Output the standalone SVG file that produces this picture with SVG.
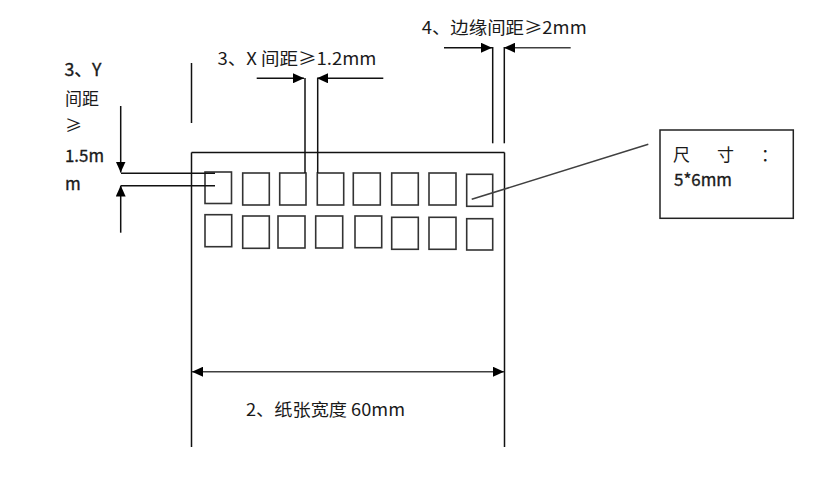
<svg xmlns="http://www.w3.org/2000/svg" width="818" height="479" viewBox="0 0 818 479">
<defs>
<marker id="arr" markerUnits="userSpaceOnUse" markerWidth="11" markerHeight="10" refX="10" refY="4.5" orient="auto-start-reverse" viewBox="0 0 10 9">
<path d="M0,0 L10,4.5 L0,9 z" fill="#000"/>
</marker>
<style>
.ln{stroke:#111;stroke-width:1.5;fill:none}
.gl{stroke:#404040;stroke-width:1.5;fill:none}
.bx{stroke:#333;stroke-width:1.6;fill:#fff}
.t{font-family:"Noto Sans CJK SC","Liberation Sans",sans-serif;font-size:17px;fill:#1a1a1a}
.b{stroke:#1a1a1a;stroke-width:0.35}
</style>
</defs>
<rect width="818" height="479" fill="#fff"/>

<g id="paper">
<path class="ln" d="M191.5,152.5 H504.5 M191.5,152.5 V447 M504.5,152.5 V447"/>
<line class="ln" x1="191.5" y1="63" x2="191.5" y2="123"/>
</g>

<g id="labels-grid">
<rect class="bx" x="205" y="172" width="26.5" height="31.5"/>
<rect class="bx" x="242.7" y="173" width="26.6" height="32"/>
<rect class="bx" x="279.7" y="173" width="26.3" height="32"/>
<rect class="bx" x="317.3" y="173" width="26.4" height="32"/>
<rect class="bx" x="353.3" y="173" width="27" height="32"/>
<rect class="bx" x="391.7" y="173" width="26.6" height="32"/>
<rect class="bx" x="429" y="173" width="27" height="32"/>
<rect class="bx" x="466.7" y="174.3" width="26" height="32"/>
<rect class="bx" x="205" y="214.7" width="26.7" height="32"/>
<rect class="bx" x="242.7" y="216" width="26.6" height="32.3"/>
<rect class="bx" x="278" y="216" width="27" height="32"/>
<rect class="bx" x="315.7" y="216" width="27" height="32"/>
<rect class="bx" x="355" y="216" width="26.7" height="31.7"/>
<rect class="bx" x="391.7" y="217.3" width="26.6" height="32"/>
<rect class="bx" x="429" y="217.3" width="27" height="32"/>
<rect class="bx" x="466.7" y="218.7" width="26" height="31.3"/>
</g>

<g id="callout">
<rect x="660" y="130" width="133.3" height="88.3" fill="#fff" stroke="#222" stroke-width="1.5"/>
<text class="t" y="161" font-size="19" x="673 717 761">尺寸：</text>
<text class="t b" x="674" y="186" textLength="58" lengthAdjust="spacingAndGlyphs">5*6mm</text>
</g>

<g id="connectors">
<line class="ln" x1="256.7" y1="78.3" x2="304" y2="78.3" marker-end="url(#arr)"/>
<line class="ln" x1="383.3" y1="78.3" x2="317" y2="78.3" marker-end="url(#arr)"/>
<line class="ln" x1="305" y1="78" x2="305" y2="173"/>
<line class="ln" x1="317.7" y1="78" x2="317.7" y2="173"/>
<line class="ln" x1="444" y1="47.7" x2="492" y2="47.7" marker-end="url(#arr)"/>
<line class="gl" x1="570.7" y1="47.7" x2="504" y2="47.7" marker-end="url(#arr)"/>
<line class="ln" x1="492.7" y1="47" x2="492.7" y2="143.3"/>
<line class="ln" x1="504.3" y1="47" x2="504.3" y2="143.3"/>
<line class="ln" x1="120.7" y1="106" x2="120.7" y2="172.5" marker-end="url(#arr)"/>
<line class="ln" x1="120.7" y1="232.7" x2="120.7" y2="185.5" marker-end="url(#arr)"/>
<line class="ln" x1="121" y1="173.3" x2="215" y2="173.3"/>
<line class="ln" x1="121" y1="185.7" x2="215" y2="185.7"/>
<line class="gl" x1="192" y1="371.7" x2="504" y2="371.7" marker-start="url(#arr)" marker-end="url(#arr)"/>
<line class="gl" x1="471.7" y1="199.3" x2="648.3" y2="144.3"/>
</g>

<g id="texts">
<text class="t b" x="64.5" y="75.7" textLength="37" lengthAdjust="spacingAndGlyphs">3、Y</text>
<text class="t" x="65" y="105" font-size="20">间距</text>
<text class="t" x="65" y="131.5" font-size="19">≥</text>
<text class="t b" x="65" y="161.7" textLength="39" lengthAdjust="spacingAndGlyphs">1.5m</text>
<text class="t b" x="65" y="190">m</text>
<text class="t" x="217.5" y="65" textLength="159" lengthAdjust="spacingAndGlyphs">3、X 间距≥1.2mm</text>
<text class="t" x="421.7" y="34.3" textLength="165" lengthAdjust="spacingAndGlyphs">4、边缘间距≥2mm</text>
<text class="t" x="246" y="416" textLength="159" lengthAdjust="spacingAndGlyphs">2、纸张宽度 60mm</text>
</g>
</svg>
